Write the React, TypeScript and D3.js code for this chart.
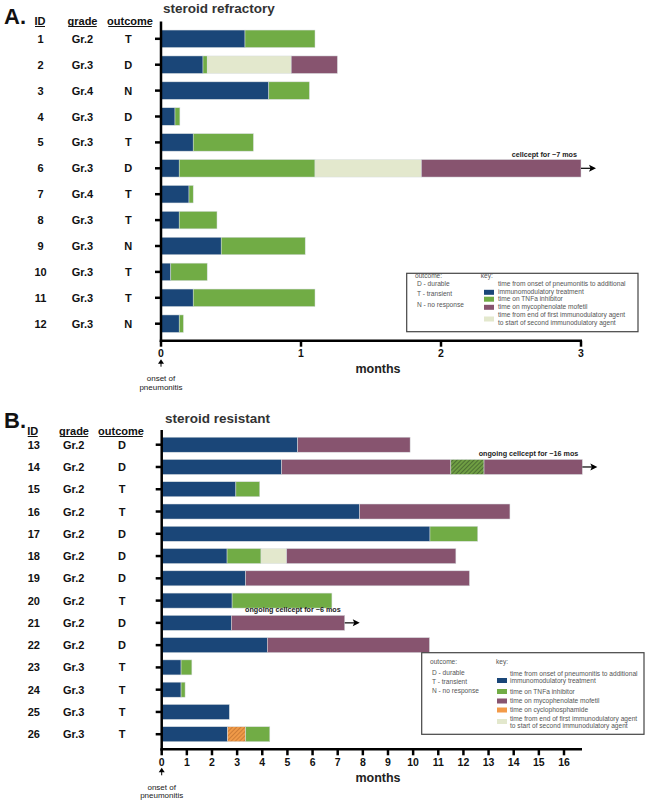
import React from "react";
import * as d3 from "d3";

const refractoryIds = ["1", "2", "3", "4", "5", "6", "7", "8", "9", "10", "11", "12"];
const refractoryGrades = ["Gr.2", "Gr.3", "Gr.4", "Gr.3", "Gr.3", "Gr.3", "Gr.4", "Gr.3", "Gr.3", "Gr.3", "Gr.3", "Gr.3"];
const refractoryOutcomes = ["T", "D", "N", "D", "T", "D", "T", "T", "N", "T", "T", "N"];
// each segment: [kind, end month] (segments are contiguous from 0)
const refractorySegments: [string, number][][] = [
  [["onset", 0.6], ["tnf", 1.1]],
  [["onset", 0.3], ["tnf", 0.33], ["gap", 0.93], ["mmf", 1.26]],
  [["onset", 0.77], ["tnf", 1.06]],
  [["onset", 0.1], ["tnf", 0.135]],
  [["onset", 0.23], ["tnf", 0.66]],
  [["onset", 0.13], ["tnf", 1.1], ["gap", 1.86], ["mmf", 3.0]],
  [["onset", 0.2], ["tnf", 0.23]],
  [["onset", 0.13], ["tnf", 0.4]],
  [["onset", 0.43], ["tnf", 1.03]],
  [["onset", 0.07], ["tnf", 0.33]],
  [["onset", 0.23], ["tnf", 1.1]],
  [["onset", 0.13], ["tnf", 0.16]],
];
const refractoryTicks = [0, 1, 2, 3];
const refractoryNotes = [{ id: "6", text: "cellcept for ~7 mos" }];

const resistantIds = ["13", "14", "15", "16", "17", "18", "19", "20", "21", "22", "23", "24", "25", "26"];
const resistantGrades = ["Gr.2", "Gr.2", "Gr.2", "Gr.2", "Gr.2", "Gr.2", "Gr.2", "Gr.2", "Gr.2", "Gr.2", "Gr.3", "Gr.3", "Gr.3", "Gr.3"];
const resistantOutcomes = ["D", "D", "T", "T", "D", "D", "D", "T", "D", "D", "T", "T", "T", "T"];
const resistantSegments: [string, number][][] = [
  [["onset", 5.41], ["mmf", 9.88]],
  [["onset", 4.77], ["mmf", 11.5], ["tnfHatch", 12.82], ["mmf", 16.73]],
  [["onset", 2.95], ["tnf", 3.9]],
  [["onset", 7.87], ["mmf", 13.85]],
  [["onset", 10.67], ["tnf", 12.57]],
  [["onset", 2.6], ["tnf", 3.95], ["gap", 4.97], ["mmf", 11.7]],
  [["onset", 3.34], ["mmf", 12.24]],
  [["onset", 2.8], ["tnf", 6.77]],
  [["onset", 2.77], ["mmf", 7.28]],
  [["onset", 4.2], ["mmf", 10.65]],
  [["onset", 0.77], ["tnf", 1.2]],
  [["onset", 0.77], ["tnf", 0.93]],
  [["onset", 2.69]],
  [["onset", 2.62], ["cycHatch", 3.34], ["tnf", 4.3]],
];
const resistantTicks = d3.range(0, 17);
const resistantNotes = [
  { id: "14", text: "ongoing cellcept for ~16 mos" },
  { id: "21", text: "ongoing cellcept for ~6 mos" },
];

const outcomeKey = ["D - durable", "T - transient", "N - no response"];
const keyRefractory = [
  { kind: "onset", lines: ["time from onset of pneumonitis to additional", "immunomodulatory treatment"] },
  { kind: "tnf", lines: ["time on TNFa inhibitor"] },
  { kind: "mmf", lines: ["time on mycophenolate mofetil"] },
  { kind: "gap", lines: ["time from end of first immunodulatory agent", "to start of second immunodulatory agent"] },
];
const keyResistant = [
  { kind: "onset", lines: ["time from onset of pneumonitis to additional", "immunomodulatory treatment"] },
  { kind: "tnf", lines: ["time on TNFa inhibitor"] },
  { kind: "mmf", lines: ["time on mycophenolate mofetil"] },
  { kind: "cyc", lines: ["time on cyclophosphamide"] },
  { kind: "gap", lines: ["time from end of first immunodulatory agent", "to start of second immunodulatory agent"] },
];

const COLORS: Record<string, string> = {
  onset: "#1a4678",
  tnf: "#71ac45",
  mmf: "#87546f",
  gap: "#e3e8cd",
  cyc: "#f39a48",
  tnfHatch: "url(#hatchGreen)",
  cycHatch: "url(#hatchOrange)",
};

const FONT = "'Liberation Sans', Arial, Helvetica, sans-serif";

type PanelProps = {
  letter: string;
  title: string;
  ids: string[];
  grades: string[];
  outcomes: string[];
  segments: [string, number][][];
  ticks: number[];
  notes: { id: string; text: string }[];
  xDomainMax: number;
  xRange: [number, number];
  axisEnd: number;
  bandRange: [number, number];
  axisTop: number;
  axisY: number;
  letterY: number;
  headerY: number;
  titleX: number;
  titleY: number;
  colX: [number, number, number];
  headX: [number, number, number];
  barFrac: number;
  legend: {
    x: number; y: number; w: number; h: number;
    outX: number; outTitleY: number; outYs: number[];
    keyX: number; swX: number; txtX: number;
    lineYs: number[][]; swYs: number[];
    items: { kind: string; lines: string[] }[];
  };
};

function Panel(p: PanelProps) {
  const x = d3.scaleLinear().domain([0, p.xDomainMax]).range(p.xRange);
  const pad = 1 - p.barFrac;
  const y = d3.scaleBand<string>().domain(p.ids).range(p.bandRange).paddingInner(pad).paddingOuter(pad / 2);
  const bw = y.bandwidth();
  const x0 = x(0);
  const L = p.legend;
  return (
    <g fontFamily={FONT}>
      <text x={4} y={p.letterY} fontSize={22} fontWeight="bold" fill="#111">{p.letter}</text>
      {["ID", "grade", "outcome"].map((h, i) => {
        const w = h === "ID" ? 10 : h === "grade" ? 28.5 : 43.5;
        return (
          <g key={h}>
            <text x={p.headX[i]} y={p.headerY} fontSize={11} fontWeight="bold" textAnchor="middle" fill="#111">{h}</text>
            <line x1={p.headX[i] - w / 2} x2={p.headX[i] + w / 2} y1={p.headerY + 1.5} y2={p.headerY + 1.5} stroke="#111" strokeWidth={1} />
          </g>
        );
      })}
      <text x={p.titleX} y={p.titleY} fontSize={13.5} fill="#222" fontWeight="bold" opacity={0.92}>{p.title}</text>
      {p.ids.map((id, i) => {
        const cy = (y(id) as number) + bw / 2;
        let start = 0;
        return (
          <g key={id}>
            <text x={p.colX[0]} y={cy + 4} fontSize={11} fontWeight="bold" textAnchor="middle" fill="#111">{id}</text>
            <text x={p.colX[1]} y={cy + 4} fontSize={11} fontWeight="bold" textAnchor="middle" fill="#111">{p.grades[i]}</text>
            <text x={p.colX[2]} y={cy + 4} fontSize={11} fontWeight="bold" textAnchor="middle" fill="#111">{p.outcomes[i]}</text>
            <line x1={x0 - 6} x2={x0} y1={cy} y2={cy} stroke="#000" strokeWidth={2.5} />
            {p.segments[i].map(([kind, end], j) => {
              const s = start;
              start = end;
              return (
                <rect key={j} x={x(s)} y={y(id)} width={x(end) - x(s)} height={bw} fill={COLORS[kind]} stroke="#d8dde0" strokeWidth={0.5} />
              );
            })}
          </g>
        );
      })}
      {p.notes.map((n) => {
        const i = p.ids.indexOf(n.id);
        const segs = p.segments[i];
        const endX = x(segs[segs.length - 1][1]);
        const cy = (y(n.id) as number) + bw / 2;
        return (
          <g key={n.id}>
            <text x={endX - 4} y={(y(n.id) as number) - 3} fontSize={7.2} fontWeight="bold" textAnchor="end" fill="#222">{n.text}</text>
            <line x1={endX} x2={endX + 10} y1={cy} y2={cy} stroke="#000" strokeWidth={1.2} />
            <path d={`M${endX + 15},${cy} L${endX + 8},${cy - 3.5} L${endX + 9.5},${cy} L${endX + 8},${cy + 3.5} Z`} fill="#000" />
          </g>
        );
      })}
      {/* axes */}
      <line x1={x0} x2={x0} y1={p.axisTop} y2={p.axisY + 1.25} stroke="#000" strokeWidth={2.5} />
      <line x1={x0 - 1.25} x2={p.axisEnd} y1={p.axisY} y2={p.axisY} stroke="#000" strokeWidth={2.5} />
      {p.ticks.map((t) => (
        <g key={t}>
          <line x1={x(t)} x2={x(t)} y1={p.axisY} y2={p.axisY + 6} stroke="#000" strokeWidth={2.5} />
          <text x={x(t)} y={p.axisY + 16.5} fontSize={10.5} fontWeight="bold" textAnchor="middle" fill="#111">{t}</text>
        </g>
      ))}
      <text x={378} y={p.axisY + 32.5} fontSize={12.5} fontWeight="bold" textAnchor="middle" fill="#222">months</text>
      <line x1={x0} x2={x0} y1={p.axisY + 21} y2={p.axisY + 26} stroke="#000" strokeWidth={1} />
      <path d={`M${x0},${p.axisY + 18.5} L${x0 - 3},${p.axisY + 23} L${x0 + 3},${p.axisY + 23} Z`} fill="#000" />
      <text x={x0} y={p.axisY + 40.5} fontSize={8} textAnchor="middle" fill="#222">onset of</text>
      <text x={x0} y={p.axisY + 49} fontSize={8} textAnchor="middle" fill="#222">pneumonitis</text>
      {/* legend */}
      <rect x={L.x} y={L.y} width={L.w} height={L.h} fill="#fff" stroke="#444" strokeWidth={1.2} />
      <g fontSize={6.6} fill="#555">
        <text x={L.outX} y={L.outTitleY + 2.3}>outcome:</text>
        {outcomeKey.map((o, i) => (
          <text key={o} x={L.outX + 2} y={L.outYs[i] + 2.3}>{o}</text>
        ))}
        <text x={L.keyX} y={L.outTitleY + 2.3}>key:</text>
        {L.items.map((it, i) => (
          <g key={it.kind}>
            <rect x={L.swX} y={L.swYs[i] - 2.5} width={10} height={5} fill={COLORS[it.kind]} />
            {it.lines.map((ln, k) => (
              <text key={k} x={L.txtX} y={L.lineYs[i][k] + 2.3}>{ln}</text>
            ))}
          </g>
        ))}
      </g>
    </g>
  );
}

export default function App() {
  return (
    <svg width={646} height={806} style={{ position: "absolute", left: 0, top: 0, background: "#fff" }}>
      <defs>
        <pattern id="hatchGreen" patternUnits="userSpaceOnUse" width={3} height={3} patternTransform="rotate(45)">
          <rect width={3} height={3} fill="#6f9e43" />
          <line x1={0} y1={0} x2={0} y2={3} stroke="#3e5a2c" strokeWidth={1.4} />
        </pattern>
        <pattern id="hatchOrange" patternUnits="userSpaceOnUse" width={3} height={3} patternTransform="rotate(45)">
          <rect width={3} height={3} fill="#f09a48" />
          <line x1={0} y1={0} x2={0} y2={3} stroke="#b56a2c" strokeWidth={1.2} />
        </pattern>
      </defs>
      <rect width={646} height={806} fill="#fff" />
      <Panel
        letter="A."
        title="steroid refractory"
        ids={refractoryIds}
        grades={refractoryGrades}
        outcomes={refractoryOutcomes}
        segments={refractorySegments}
        ticks={refractoryTicks}
        notes={refractoryNotes}
        xDomainMax={3}
        xRange={[161, 581]}
        axisEnd={582}
        bandRange={[25.85, 336.65]}
        axisTop={21.5}
        axisY={340.7}
        letterY={23.5}
        headerY={25}
        titleX={163}
        titleY={13}
        colX={[40.5, 82.5, 128.3]}
        headX={[40, 82.5, 130]}
        barFrac={0.676}
        legend={{
          x: 406.7, y: 273.3, w: 231.3, h: 58.4,
          outX: 415, outTitleY: 275.8, outYs: [284, 294, 304.3],
          keyX: 480.7, swX: 484, txtX: 498,
          lineYs: [[284, 291.3], [298.7], [306.7], [315, 322.7]],
          swYs: [292.3, 299.2, 307.3, 319],
          items: keyRefractory,
        }}
      />
      <Panel
        letter="B."
        title="steroid resistant"
        ids={resistantIds}
        grades={resistantGrades}
        outcomes={resistantOutcomes}
        segments={resistantSegments}
        ticks={resistantTicks}
        notes={resistantNotes}
        xDomainMax={16}
        xRange={[161.7, 564]}
        axisEnd={582}
        bandRange={[433.57, 745.35]}
        axisTop={430}
        axisY={749.3}
        letterY={427.7}
        headerY={435}
        titleX={165}
        titleY={423}
        colX={[33.8, 73.7, 122]}
        headX={[32.7, 74, 121]}
        barFrac={0.674}
        legend={{
          x: 421.7, y: 652.7, w: 222.3, h: 81.6,
          outX: 430, outTitleY: 662, outYs: [672.7, 682, 691],
          keyX: 496, swX: 497, txtX: 510,
          lineYs: [[674, 680.7], [691.7], [700.3], [709.3], [718.3, 726]],
          swYs: [680.5, 691.5, 701, 710, 721.5],
          items: keyResistant,
        }}
      />
    </svg>
  );
}
